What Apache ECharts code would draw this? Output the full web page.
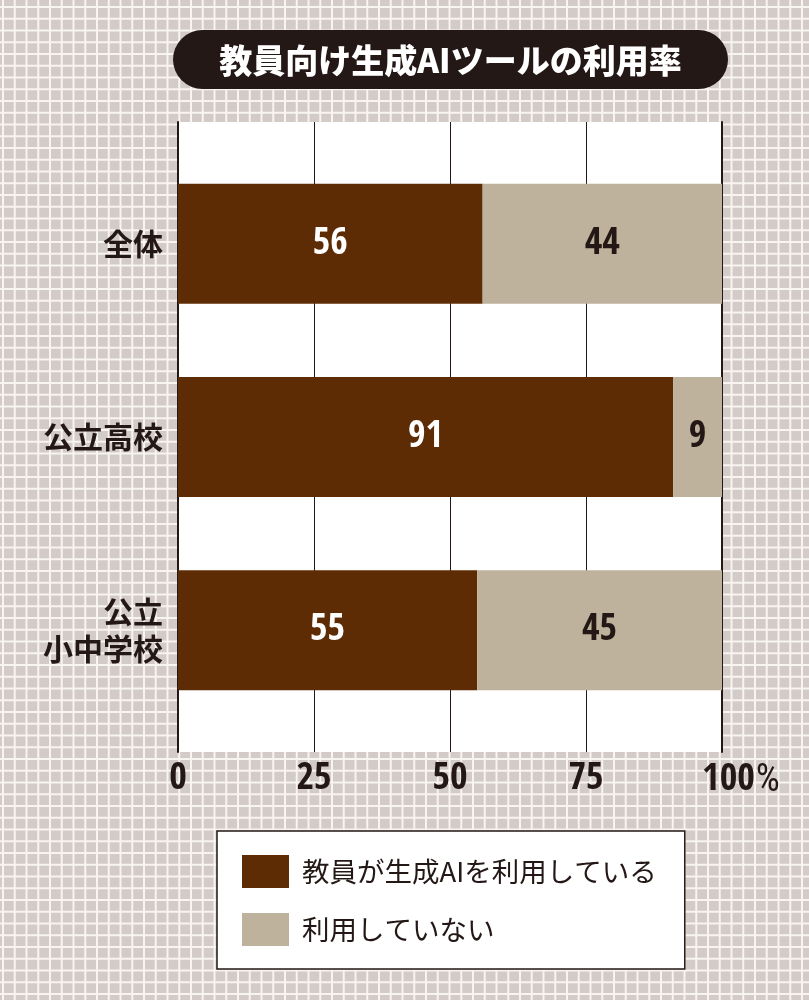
<!DOCTYPE html>
<html>
<head>
<meta charset="utf-8">
<script src="https://cdn.jsdelivr.net/npm/echarts@6/dist/echarts.min.js"></script>
<style>
html,body{margin:0;padding:0;}
#c{width:809px;height:1000px;}
</style>
</head>
<body>
<div id="c"></div>
<script>
const titleText = '教員向け生成AIツールの利用率';
const categories = ['全体', '公立高校', '公立\n小中学校'];
const seriesNames = ['教員が生成AIを利用している', '利用していない'];
const usingValues = [56, 91, 55];
const notUsingValues = [44, 9, 45];
const xTicks = [0, 25, 50, 75, 100];

const DARK = '#231815';
const NUMFONT = "'Open Sans Condensed','Roboto Condensed',sans-serif";
const PCTFONT = "'Roboto Condensed','Open Sans Condensed',sans-serif";
const JPFONT = "'Noto Sans CJK JP','Noto Sans',sans-serif";

// background grid pattern tile
const tile = document.createElement('canvas');
tile.width = 47; tile.height = 47;
const tc = tile.getContext('2d');
tc.fillStyle = '#d3cbc7';
tc.fillRect(0, 0, 47, 47);
tc.fillStyle = '#f7f4f2';
for (let i = 0; i < 4; i++) {
  const vx = (2 + i * 11.75) % 47;
  const hy = (6 + i * 11.75) % 47;
  tc.fillRect(vx, 0, 2, 47);
  tc.fillRect(0, hy, 47, 2);
}

const chart = echarts.init(document.getElementById('c'));
chart.setOption({
  backgroundColor: { image: tile, repeat: 'repeat' },
  animation: false,
  graphic: [{
    type: 'group',
    left: 173, top: 30,
    children: [{
      type: 'rect',
      shape: { x: 0, y: 0, width: 555, height: 59, r: 29.5 },
      style: { fill: DARK }
    }, {
      type: 'text',
      x: 277.5, y: 30,
      style: {
        text: titleText, fill: '#fff', font: "900 33px " + JPFONT,
        align: 'center', verticalAlign: 'middle'
      }
    }]
  }],
  legend: {
    orient: 'vertical',
    left: 217, top: 831,
    padding: [24, 28, 23, 25],
    backgroundColor: '#fff',
    borderColor: DARK, borderWidth: 1.5,
    itemWidth: 47, itemHeight: 33, itemGap: 25,
    icon: 'rect',
    selectedMode: false,
    textStyle: { fontSize: 27.5, color: DARK, fontFamily: JPFONT, padding: [0, 0, 0, 8] },
    data: seriesNames
  },
  grid: [
    { left: 178, right: 87, top: 122, bottom: 248, show: true, backgroundColor: '#fff', borderWidth: 0 },
    { left: 178, right: 87, top: 147, bottom: 273 }
  ],
  xAxis: [{
    gridIndex: 0, type: 'value', min: 0, max: 100, interval: 25,
    axisLine: { show: false }, axisTick: { show: false },
    splitLine: { show: true, lineStyle: { color: DARK, width: 1 } },
    axisLabel: {
      margin: 8,
      formatter: v => v === 100 ? '{m|100}{p|%}' : '{n|' + v + '}',
      rich: {
        n: { fontSize: 38, fontWeight: 'bold', color: DARK, fontFamily: NUMFONT },
        m: { fontSize: 38, fontWeight: 'bold', color: DARK, fontFamily: NUMFONT, padding: [0, 0, 0, 38] },
        p: { fontSize: 38, fontWeight: 'normal', color: DARK, fontFamily: PCTFONT, padding: [2, 0, 0, 1] }
      }
    }
  }, {
    gridIndex: 1, type: 'value', min: 0, max: 100, show: false
  }],
  yAxis: [{
    gridIndex: 0, type: 'category', data: categories, position: 'left',
    axisLine: { show: true, lineStyle: { color: DARK, width: 2 } },
    axisTick: { show: false }, axisLabel: { show: false }, splitLine: { show: false }
  }, {
    gridIndex: 0, type: 'category', data: categories, position: 'right',
    axisLine: { show: true, lineStyle: { color: DARK, width: 2 } },
    axisTick: { show: false }, axisLabel: { show: false }, splitLine: { show: false }
  }, {
    gridIndex: 1, type: 'category', data: categories, inverse: true,
    axisLine: { show: false }, axisTick: { show: false },
    axisLabel: {
      margin: 15, fontSize: 30, fontWeight: 'bold', color: DARK,
      fontFamily: JPFONT, lineHeight: 37, align: 'right'
    }
  }],
  series: [{
    name: seriesNames[0], type: 'bar', stack: 's',
    xAxisIndex: 1, yAxisIndex: 2, barWidth: 120,
    data: usingValues,
    itemStyle: { color: '#5e2c04' },
    label: { show: true, position: 'inside', color: '#fff', fontSize: 38, fontWeight: 'bold', fontFamily: NUMFONT }
  }, {
    name: seriesNames[1], type: 'bar', stack: 's',
    xAxisIndex: 1, yAxisIndex: 2, barWidth: 120,
    data: notUsingValues,
    itemStyle: { color: '#bfb29c' },
    label: { show: true, position: 'inside', color: DARK, fontSize: 38, fontWeight: 'bold', fontFamily: NUMFONT }
  }]
});
</script>
</body>
</html>
